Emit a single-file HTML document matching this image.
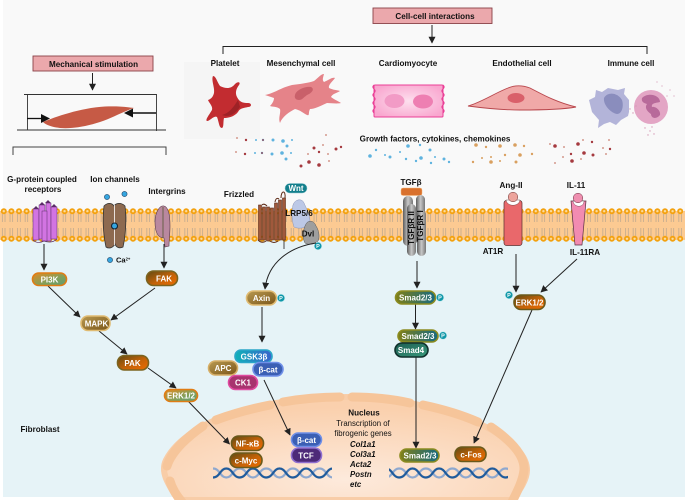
<!DOCTYPE html>
<html><head><meta charset="utf-8"><style>
html,body{margin:0;padding:0;background:#fff}
svg{display:block;font-family:"Liberation Sans",sans-serif}
.b{font-weight:bold;font-size:8.1px;fill:#111;text-anchor:middle}
.w{font-weight:bold;font-size:8px;fill:#fff;text-anchor:middle}
.i{font-weight:bold;font-style:italic;font-size:7.800px;fill:#111}
.t{font-size:7.800px;fill:#111;text-anchor:middle}
.a{stroke:#222;stroke-width:1;fill:none;marker-end:url(#ah)}
.l{stroke:#222;stroke-width:1;fill:none}
.p{fill:#0f96a8;stroke:#bfe8ec;stroke-width:.6}
.pt{font-weight:bold;font-size:5.500px;fill:#fff;text-anchor:middle}
.pills rect{stroke-width:1.600}
</style></head><body>
<svg width="685" height="500" viewBox="0 0 685 500" xmlns="http://www.w3.org/2000/svg">
<defs>
<marker id="ah" viewBox="0 0 10 10" refX="9" refY="5" markerWidth="7" markerHeight="7" markerUnits="userSpaceOnUse" orient="auto"><path d="M0 0L10 5L0 10z" fill="#222"/></marker>
<pattern id="lip" width="7.600" height="36" patternUnits="userSpaceOnUse" x="0" y="207">
<g stroke="#a59a8c" stroke-width=".55" fill="none"><path d="M2.400 7V15M5 7V15M2.400 21V29M5 21V29"/></g>
<circle cx="3.800" cy="4.200" r="3" fill="#f3a10f"/><circle cx="3.800" cy="4.200" r="1.200" fill="#fbdca0"/>
<circle cx="3.800" cy="31.800" r="3" fill="#f3a10f"/><circle cx="3.800" cy="31.800" r="1.200" fill="#fbdca0"/>
</pattern>
<pattern id="dna" width="26.600" height="12" patternUnits="userSpaceOnUse" x="213" y="467">
<path d="M0 1.500C7 1.500 7 10.500 13.300 10.500S20 1.500 26.600 1.500" fill="none" stroke="#8ea8cf" stroke-width="2.200"/>
<path d="M0 10.500C7 10.500 7 1.500 13.300 1.500S20 10.500 26.600 10.500" fill="none" stroke="#1f5b9c" stroke-width="2.200"/>
</pattern>
<radialGradient id="nuc" cx=".5" cy=".8" r=".7"><stop offset="0" stop-color="#fdeadc"/><stop offset="1" stop-color="#fad0ad"/></radialGradient>
<linearGradient id="gog" x1="0" y1="0" x2="1" y2="1"><stop offset="0" stop-color="#e28a22"/><stop offset=".6" stop-color="#7fa05c"/><stop offset="1" stop-color="#5f9c74"/></linearGradient>
<linearGradient id="gdo" x1="0" y1="0" x2="1" y2="1"><stop offset="0" stop-color="#5e4a14"/><stop offset=".55" stop-color="#c46208"/><stop offset="1" stop-color="#ee6c00"/></linearGradient>
<linearGradient id="gtan" x1="0" y1="0" x2="1" y2="1"><stop offset="0" stop-color="#b99a52"/><stop offset="1" stop-color="#7a5518"/></linearGradient>
<linearGradient id="gsm" x1="0" y1="0" x2="1" y2="0"><stop offset="0" stop-color="#7f7f18"/><stop offset="1" stop-color="#176a80"/></linearGradient>
<linearGradient id="gs4" x1="0" y1="0" x2="1" y2="1"><stop offset="0" stop-color="#1c5d52"/><stop offset="1" stop-color="#3a9a7c"/></linearGradient>
<linearGradient id="ggs" x1="0" y1="0" x2="1" y2="0"><stop offset="0" stop-color="#0fb2b8"/><stop offset="1" stop-color="#3a62cc"/></linearGradient>
<radialGradient id="card" cx=".5" cy=".5" r=".6"><stop offset="0" stop-color="#fde0ee"/><stop offset="1" stop-color="#f9a6cf"/></radialGradient>
<linearGradient id="gray" x1="0" y1="0" x2="1" y2="0"><stop offset="0" stop-color="#5e5e5e"/><stop offset=".5" stop-color="#c8c8c8"/><stop offset="1" stop-color="#777"/></linearGradient>
</defs>

<rect x="3" y="0" width="682" height="497" fill="#f9f9f9"/>
<rect x="3" y="240" width="682" height="257" fill="#e6f3f7"/>
<rect x="184" y="62" width="76" height="77" fill="#f5f5f5"/>

<!-- membrane -->
<rect x="0" y="211" width="685" height="29" fill="#fcca92"/>
<rect x="0" y="207" width="685" height="36" fill="url(#lip)"/>

<!-- nucleus -->
<path d="M178 500C168 484 160 472 166 460C176 440 205 420 245 410C280 400 320 397 350 397C410 398 470 415 498 434C518 447 527 458 527 470C527 480 520 490 512 500Z" fill="url(#nuc)" stroke="#f8cda8" stroke-width="6"/>
<g fill="none" stroke="#f6c59a" stroke-width="9" stroke-linecap="round">
<path d="M167 466C172 450 190 435 203 426"/>
<path d="M216 420C235 413 255 408 270 405"/>
<path d="M283 402C300 399 320 397 340 397"/>
<path d="M352 397C372 397 392 399 410 403"/>
<path d="M423 405C442 409 462 415 478 422"/>
<path d="M491 427C510 440 525 455 524 470C523 480 518 490 512 502"/>
<path d="M170 481C172 488 176 495 182 502"/>
</g>

<!-- top boxes -->
<rect x="33" y="56" width="120" height="15" fill="#eba8ac" stroke="#8a4248" stroke-width=".9"/>
<text class="b" x="93.500" y="67">Mechanical stimulation</text>
<line class="a" x1="92.500" y1="73" x2="92.500" y2="90"/>
<rect x="373" y="8" width="119" height="15.500" fill="#eba8ac" stroke="#8a4248" stroke-width=".9"/>
<text class="b" x="435" y="19">Cell-cell interactions</text>
<line class="a" x1="432" y1="25" x2="432" y2="43"/>
<path class="l" d="M223 54V46.500H647V54"/>
<path d="M13 155V147H166V155" fill="none" stroke="#444" stroke-width="1"/>

<!-- mechanical -->
<path d="M24 94.500H156.500V131M27.500 94V130M17 130H166" fill="none" stroke="#333" stroke-width=".9"/>
<path d="M43 122C55 117 80 108 105 106.500C118 106 128 107 134 108C122 112 112 118 100 122C85 127 70 129 60 128C52 127 46 125 43 122Z" fill="#c65a45"/>
<path d="M27 118.500H42" stroke="#111" stroke-width="1.300"/><path d="M41 114L50 118.500L41 123Z" fill="#111"/>
<path d="M156 113H132" stroke="#111" stroke-width="1.500"/><path d="M133 108.500L124 113L133 117.500Z" fill="#111"/>

<!-- cell labels -->
<text class="b" x="225" y="66">Platelet</text>
<text class="b" x="301" y="66">Mesenchymal cell</text>
<text class="b" x="408" y="66">Cardiomyocyte</text>
<text class="b" x="522" y="66">Endothelial cell</text>
<text class="b" x="631" y="66">Immune cell</text>

<!-- platelet -->
<path d="M213 76C216 76 217 82 220 86C226 89 231 89 235 84C238 81 241 82 239 85C236 89 235 93 237 97C240 103 244 103 248 103C252 103 252 107 248 107C244 108 240 108 238 112C234 117 228 118 224 118C223 122 224 127 222 128C219 128 219 122 217 117C214 115 210 121 207 121C205 120 209 115 212 110C213 106 209 103 208 100C211 99 213 97 214 93C215 88 211 80 213 76Z" fill="#c22c30"/>
<path d="M238 100C233 108 229 113 222 115C230 118 236 113 240 107Z" fill="#9e2226"/>

<!-- mesenchymal -->
<path d="M265 95C275 93 280 88 292 85C300 84 308 83 314 81C318 78 321 74 324 74C323 78 322 80 324 82C329 80 332 77 335 78C332 82 328 85 329 88C333 90 337 90 340 91C337 93 332 94 331 97C335 100 340 102 341 103C337 104 331 103 327 103C320 106 315 109 310 109C308 113 310 116 307 115C303 113 300 110 295 109C289 112 282 117 280 123C278 118 281 113 280 109C276 106 272 107 270 106C273 103 274 100 274 98C271 97 268 96 265 95Z" fill="#e58389"/>
<path d="M295 95C296 90 305 86 311 87C315 89 312 93 307 95C303 98 302 100 299 100C296 100 294 98 295 95Z" fill="#c9606a"/>

<!-- cardiomyocyte -->
<rect x="374" y="85" width="69" height="32" rx="1" fill="url(#card)" stroke="#ea3f96" stroke-width="1"/>
<path d="M374 85q-2 2 0 4t0 4 0 4 0 4 0 4 0 4 0 4M443 85q2 2 0 4t0 4 0 4 0 4 0 4 0 4 0 4" fill="none" stroke="#ea3f96" stroke-width="1.200"/>
<ellipse cx="394.500" cy="101" rx="10" ry="7" fill="#f29bc6"/>
<ellipse cx="423" cy="101.500" rx="10" ry="7" fill="#ee7fb2"/>

<!-- endothelial -->
<path d="M468 106C480 103 497 92 508 88C515 85 522 85 530 88C540 93 555 102 576 107C560 110 535 110 520 110C500 110 483 108 468 106Z" fill="#f0a9a8" stroke="#b8464c" stroke-width=".9"/>
<ellipse cx="516" cy="98" rx="8.500" ry="5" fill="#d9606a"/>

<!-- immune -->
<path d="M596 90L602 92L608 88L618 90L625 88L624 94L629 100L629 112L628 116L621 120L616 125L610 122L604 124L598 128L599 120L592 112L589 100L595 97Z" fill="#b3b4d9"/>
<path d="M604 98C608 91 618 93 622 100C624 106 622 114 617 114C611 113 603 105 604 98Z" fill="#8a8dbd"/>
<circle cx="651" cy="107" r="17" fill="#e3a6c5"/>
<path d="M642 98C648 92 660 95 660 102C656 103 651 103 652 107C656 106 661 111 660 115C656 120 651 118 651 114C648 112 644 108 647 104C644 103 641 102 642 98Z" fill="#b86a9a"/>
<g fill="#d79ab6"><circle cx="657" cy="82" r=".6"/><circle cx="662" cy="86" r=".6"/><circle cx="670" cy="90" r=".6"/><circle cx="674" cy="96" r=".6"/><circle cx="667" cy="96" r=".6"/><circle cx="645" cy="128" r=".7"/><circle cx="650" cy="131" r=".7"/><circle cx="654" cy="134" r=".7"/><circle cx="648" cy="135" r=".7"/><circle cx="652" cy="127" r=".7"/><circle cx="630" cy="109" r=".7"/><circle cx="633" cy="113" r=".7"/><circle cx="636" cy="106" r=".7"/></g>

<!-- growth factors -->
<text class="b" x="435" y="141.500">Growth factors, cytokines, chemokines</text>
<g fill="#5fb3df"><circle cx="256" cy="140" r="1"/><circle cx="263" cy="140" r="1.200"/><circle cx="273" cy="140" r="1.500"/><circle cx="283" cy="141" r="1.800"/><circle cx="292" cy="140" r="1"/><circle cx="287" cy="146" r="1.500"/><circle cx="255" cy="153" r="1"/><circle cx="262" cy="153" r="1.200"/><circle cx="272" cy="154" r="1.500"/><circle cx="282" cy="153" r="1.800"/><circle cx="291" cy="153" r="1"/><circle cx="286" cy="159" r="1.500"/>
<circle cx="408" cy="146" r="1.800"/><circle cx="376" cy="150" r="1.200"/><circle cx="385" cy="155" r="1"/><circle cx="370" cy="156" r="1.800"/><circle cx="430" cy="150" r="1.500"/><circle cx="420" cy="145" r="1.200"/><circle cx="400" cy="152" r="1"/><circle cx="390" cy="157" r="1.500"/><circle cx="406" cy="159" r="1.200"/><circle cx="421" cy="158" r="1.800"/><circle cx="435" cy="157" r="1"/><circle cx="444" cy="159" r="1.500"/><circle cx="431" cy="163" r="1.200"/><circle cx="416" cy="161" r="1.200"/><circle cx="449" cy="162" r="1.200"/></g>
<g fill="#a53a3f"><circle cx="246" cy="140" r="1.200"/><circle cx="263" cy="140" r=".9"/><circle cx="245" cy="154" r="1.200"/><circle cx="262" cy="153" r=".9"/><circle cx="314" cy="148" r="1.500"/><circle cx="319" cy="152" r="1.200"/><circle cx="336" cy="149" r="1.500"/><circle cx="341" cy="147" r="1.200"/><circle cx="309" cy="162" r="1.800"/><circle cx="301" cy="166" r="1.500"/><circle cx="319" cy="165" r="1.800"/>
<circle cx="555" cy="146" r="1.800"/><circle cx="578" cy="144" r="1.800"/><circle cx="592" cy="142" r="1.200"/><circle cx="610" cy="149" r="1.200"/><circle cx="584" cy="153" r="1.800"/><circle cx="593" cy="155" r="1.500"/><circle cx="571" cy="154" r="1.200"/><circle cx="572" cy="161" r="1.800"/></g>
<g fill="#d49a8e"><circle cx="237" cy="138" r="1"/><circle cx="236" cy="152" r="1"/><circle cx="326" cy="135" r="1"/><circle cx="323" cy="145" r="1"/><circle cx="308" cy="154" r="1"/><circle cx="328" cy="154" r="1"/><circle cx="329" cy="161" r="1"/>
<circle cx="550" cy="144" r="1"/><circle cx="564" cy="147" r="1"/><circle cx="583" cy="140" r="1"/><circle cx="609" cy="140" r="1"/><circle cx="603" cy="148" r="1"/><circle cx="563" cy="157" r="1"/><circle cx="581" cy="159" r="1"/><circle cx="555" cy="163" r="1"/><circle cx="606" cy="154" r="1"/></g>
<g fill="#d9a060"><circle cx="476" cy="145" r="1.800"/><circle cx="486" cy="147" r="1.200"/><circle cx="500" cy="146" r="1.800"/><circle cx="515" cy="145" r="1.800"/><circle cx="524" cy="146" r="1.200"/><circle cx="491" cy="157" r="1"/><circle cx="505" cy="155" r="1.200"/><circle cx="520" cy="155" r="1.800"/><circle cx="532" cy="154" r="1.200"/><circle cx="482" cy="158" r="1"/><circle cx="473" cy="162" r="1.200"/><circle cx="491" cy="162" r="1.800"/><circle cx="500" cy="161" r="1"/><circle cx="516" cy="162" r="1.500"/></g>

<!-- receptor labels -->
<text class="b" x="42" y="182">G-protein coupled</text>
<text class="b" x="43" y="192">receptors</text>
<text class="b" x="115" y="182">Ion channels</text>
<text class="b" x="167" y="194">Intergrins</text>
<text class="b" x="239" y="197">Frizzled</text>
<text class="b" x="411" y="185">TGFβ</text>
<text class="b" x="511" y="188">Ang-II</text>
<text class="b" x="576" y="188">IL-11</text>
<text class="b" x="493" y="254">AT1R</text>
<text class="b" x="585" y="255">IL-11RA</text>

<!-- GPCR -->
<g fill="#d274e2" stroke="#5b2c68" stroke-width=".5">
<rect x="33" y="209" width="6" height="31"/><rect x="39" y="205" width="6" height="34"/><rect x="46" y="203" width="5" height="38"/><rect x="51" y="207" width="6" height="32"/><rect x="42" y="211" width="5" height="30"/>
</g>
<path d="M33 209l3-3 3 3M39 205l3-3 3 3M45 203l3-3 3 3M51 207l3-3 3 3" fill="#5b2c68"/>
<path d="M33 240C36 243 40 243 44 241C49 243 54 242 57 239" fill="none" stroke="#5b2c68" stroke-width=".7"/>

<!-- ion channel -->
<path d="M104 206C108 202 112 203 114 206C116 203 121 202 125 206C127 222 125 238 123 247C119 249 116 247 115 244C113 248 109 249 106 247C104 238 102 222 104 206Z" fill="#8d6a50" stroke="#333" stroke-width=".8"/>
<path d="M114.500 205V245" stroke="#fff" stroke-width=".8"/>
<circle cx="114.500" cy="226" r="3" fill="#36a6e0" stroke="#123" stroke-width="1.100"/>
<circle cx="107" cy="197" r="2.600" fill="#36a6e0" stroke="#246" stroke-width=".6"/>
<circle cx="124.500" cy="194" r="2.600" fill="#36a6e0" stroke="#246" stroke-width=".6"/>
<circle cx="110" cy="260" r="2.600" fill="#36a6e0" stroke="#246" stroke-width=".6"/>
<text x="116" y="262.500" style="font-weight:bold;font-size:7.500px;fill:#111">Ca<tspan dy="-2" style="font-size:4.200px">2+</tspan></text>

<!-- integrin -->
<path d="M155 222C155 212 160 205 164 206C168 207 170 214 170 226C170 234 169 240 169 246L165 247L164 238C158 238 155 232 155 222Z" fill="#b9889f" stroke="#5a3a4a" stroke-width=".6"/>
<path d="M163 207V238" stroke="#553" stroke-width=".8"/>

<!-- frizzled -->
<g fill="#a0593c" stroke="#5e2c18" stroke-width=".6">
<rect x="258.500" y="205" width="3" height="35"/><rect x="262.500" y="207" width="3" height="33"/><rect x="266.500" y="207" width="3" height="34"/><rect x="270.500" y="208" width="3" height="32"/><rect x="274.500" y="203" width="3" height="37"/><rect x="278.500" y="200" width="3" height="40"/><rect x="282.500" y="198" width="3" height="42"/>
</g>
<g fill="none" stroke="#5e2c18" stroke-width="1">
<path d="M262 205Q264 203 267 206M275 202Q276 197 279 199M281 198C281 190 286 190 285 198M258 240Q262 244 266 241M270 241Q274 244 278 241"/></g>
<path d="M284 240V249" stroke="#333" stroke-width=".9" fill="none"/>

<!-- LRP -->
<path d="M293 205C295 199 302 198 304 203C306 208 310 214 310 222C307 229 298 229 294 227C291 218 292 210 293 205Z" fill="#bcc8e6" stroke="#8a94b8" stroke-width=".5"/>
<path d="M306 224C308 220 314 220 316 226C319 230 320 238 318 241C314 245 308 245 305 243C302 238 303 229 306 224Z" fill="#9e9e9e" stroke="#555" stroke-width=".5"/>
<rect x="285" y="183.500" width="22" height="9.500" rx="4.700" fill="#137f8c" stroke="#8fc8d0" stroke-width=".5"/>
<text class="w" x="296" y="191">Wnt</text>
<text class="b" x="299" y="216">LRP5/6</text>
<text class="b" x="308" y="236.500">Dvl</text>
<circle class="p" cx="318" cy="246" r="3.800"/><text class="pt" x="318" y="248">P</text>

<!-- TGFb -->
<rect x="401" y="188" width="21" height="7.500" rx="2" fill="#d9712d" stroke="#f3b87a" stroke-width=".5"/>
<rect x="403" y="196" width="10" height="50" rx="5" fill="url(#gray)"/>
<rect x="416" y="195" width="9" height="50" rx="4.500" fill="url(#gray)"/>
<rect x="407" y="204" width="9" height="52" rx="4.500" fill="url(#gray)"/>
<rect x="417" y="210" width="9" height="46" rx="4.500" fill="url(#gray)"/>
<text transform="translate(414,228) rotate(-90)" class="b">TGFβR II</text>
<text transform="translate(423,226) rotate(-90)" class="b">TGFβR I</text>

<!-- AT1R -->
<rect x="504" y="200.500" width="18" height="45" rx="2.500" fill="#e9686b" stroke="#5a3030" stroke-width=".7"/>
<path d="M506 200C507 207 519 207 520 200Z" fill="#fff" stroke="#5a3030" stroke-width=".4"/>
<circle cx="513" cy="197" r="4.800" fill="#eda49c" stroke="#6a3030" stroke-width=".5"/>

<!-- IL11R -->
<path d="M571 201H586L582 245H575Z" fill="#f28bb1" stroke="#5a3040" stroke-width=".7"/>
<path d="M573 201C574 208 584 208 584 201Z" fill="#fff" stroke="#5a3040" stroke-width=".4"/>
<circle cx="578" cy="198" r="4.800" fill="#ef8fb0" stroke="#6a3040" stroke-width=".5"/>

<!-- arrows -->
<line class="a" x1="44" y1="244" x2="44" y2="270"/>
<line class="a" x1="164" y1="244" x2="164" y2="268"/>
<line class="a" x1="48" y1="286" x2="80" y2="317"/>
<line class="a" x1="155" y1="288" x2="111" y2="320"/>
<line class="a" x1="99" y1="331" x2="127" y2="354"/>
<line class="a" x1="148" y1="368" x2="176" y2="388"/>
<line class="a" x1="187" y1="400" x2="229.500" y2="444"/>
<path class="a" d="M316 243C290 247 268 262 265 289"/>
<line class="a" x1="262" y1="307" x2="262" y2="342"/>
<line class="a" x1="264" y1="380" x2="290" y2="435"/>
<line class="a" x1="417" y1="261" x2="417" y2="288"/>
<line class="a" x1="415.500" y1="304" x2="415.500" y2="329"/>
<line class="a" x1="416" y1="357" x2="416" y2="448"/>
<line class="a" x1="516" y1="254" x2="516" y2="292"/>
<line class="a" x1="577" y1="259" x2="541" y2="292"/>
<line class="a" x1="532" y1="310" x2="474" y2="443"/>

<!-- DNA -->
<rect x="213" y="467" width="119" height="12" fill="url(#dna)"/>
<rect x="389" y="467" width="119" height="12" fill="url(#dna)"/>

<!-- pills -->
<g class="pills">
<rect x="32.500" y="273" width="34" height="12.500" rx="6.200" fill="url(#gog)" stroke="#e07c14"/>
<rect x="146.500" y="271" width="31" height="14.500" rx="7" fill="url(#gdo)" stroke="#7b6420"/>
<rect x="81" y="316" width="29" height="14.500" rx="7" fill="url(#gtan)" stroke="#e0bb72"/>
<rect x="117.500" y="355.500" width="31" height="14.500" rx="7" fill="url(#gdo)" stroke="#7b6420"/>
<rect x="164.500" y="389.500" width="33" height="12" rx="6" fill="url(#gog)" stroke="#e07c14"/>
<rect x="246.500" y="291" width="30" height="14" rx="7" fill="url(#gtan)" stroke="#e0bb72"/>
<rect x="235" y="350" width="37" height="12.500" rx="6" fill="url(#ggs)" stroke="#2aa6c8"/>
<rect x="208.500" y="361" width="29" height="14" rx="7" fill="url(#gtan)" stroke="#d6ae66"/>
<rect x="253" y="362.500" width="30" height="13.500" rx="6.700" fill="#3b5fb4" stroke="#6f8fe8"/>
<rect x="228.500" y="375.500" width="29" height="14" rx="7" fill="#a8336f" stroke="#e04aa0"/>
<rect x="231.500" y="436" width="32" height="14.500" rx="7" fill="url(#gdo)" stroke="#6a5a1c"/>
<rect x="230" y="453" width="32" height="14.500" rx="7" fill="url(#gdo)" stroke="#6a5a1c"/>
<rect x="291.500" y="433" width="30" height="13.500" rx="6.700" fill="#3b5fb4" stroke="#6f8fe8"/>
<rect x="291.500" y="448" width="30" height="14.500" rx="7" fill="#4d2a78" stroke="#8f6fd0"/>
<rect x="395.500" y="291" width="40" height="13" rx="6.500" fill="url(#gsm)" stroke="#8b8b20"/>
<rect x="398" y="330" width="40" height="12" rx="6" fill="url(#gsm)" stroke="#8b8b20"/>
<rect x="395" y="343" width="33" height="14" rx="7" fill="url(#gs4)" stroke="#10302c"/>
<rect x="400" y="449" width="39" height="13" rx="6.500" fill="url(#gsm)" stroke="#8b8b20"/>
<rect x="455" y="447" width="31" height="14.500" rx="7" fill="url(#gdo)" stroke="#6a5a1c"/>
<rect x="514" y="295" width="31" height="14.500" rx="7" fill="url(#gdo)" stroke="#6a5a1c"/>
</g>
<text class="w" x="49.500" y="282.300">PI3K</text>
<text class="w" x="164" y="281.300">FAK</text>
<text class="w" x="96.500" y="326.300">MAPK</text>
<text class="w" x="132.500" y="365.800">PAK</text>
<text class="w" x="181" y="398.500">ERK1/2</text>
<text class="w" x="261.500" y="301">Axin</text>
<circle class="p" cx="281" cy="298" r="3.800"/><text class="pt" x="281" y="300">P</text>
<text class="w" x="254" y="359.300">GSK3β</text>
<text class="w" x="223" y="370.800">APC</text>
<text class="w" x="268" y="372.300">β-cat</text>
<text class="w" x="243" y="385.500">CK1</text>
<text class="w" x="247.500" y="446.300">NF-κB</text>
<text class="w" x="246" y="463.300">c-Myc</text>
<text class="w" x="306.500" y="442.800">β-cat</text>
<text class="w" x="306" y="458.300">TCF</text>
<text class="w" x="415.500" y="300.500">Smad2/3</text>
<circle class="p" cx="440" cy="297.500" r="3.800"/><text class="pt" x="440" y="299.500">P</text>
<text class="w" x="418" y="338.800">Smad2/3</text>
<circle class="p" cx="443" cy="335.500" r="3.800"/><text class="pt" x="443" y="337.500">P</text>
<text class="w" x="411" y="352.800">Smad4</text>
<text class="w" x="420" y="458.500">Smad2/3</text>
<text class="w" x="471" y="457.300">c-Fos</text>
<text class="w" x="529.500" y="305.300">ERK1/2</text>
<circle class="p" cx="509" cy="295" r="3.800"/><text class="pt" x="509" y="297">P</text>

<!-- text -->
<text class="b" x="40" y="432">Fibroblast</text>
<text class="b" x="364" y="415.500">Nucleus</text>
<text class="t" x="363" y="426">Transcription of</text>
<text class="t" x="363" y="436">fibrogenic genes</text>
<text class="i" x="350" y="447">Col1a1</text>
<text class="i" x="350" y="457">Col3a1</text>
<text class="i" x="350" y="467">Acta2</text>
<text class="i" x="350" y="477">Postn</text>
<text class="i" x="350" y="487">etc</text>
</svg>
</body></html>
